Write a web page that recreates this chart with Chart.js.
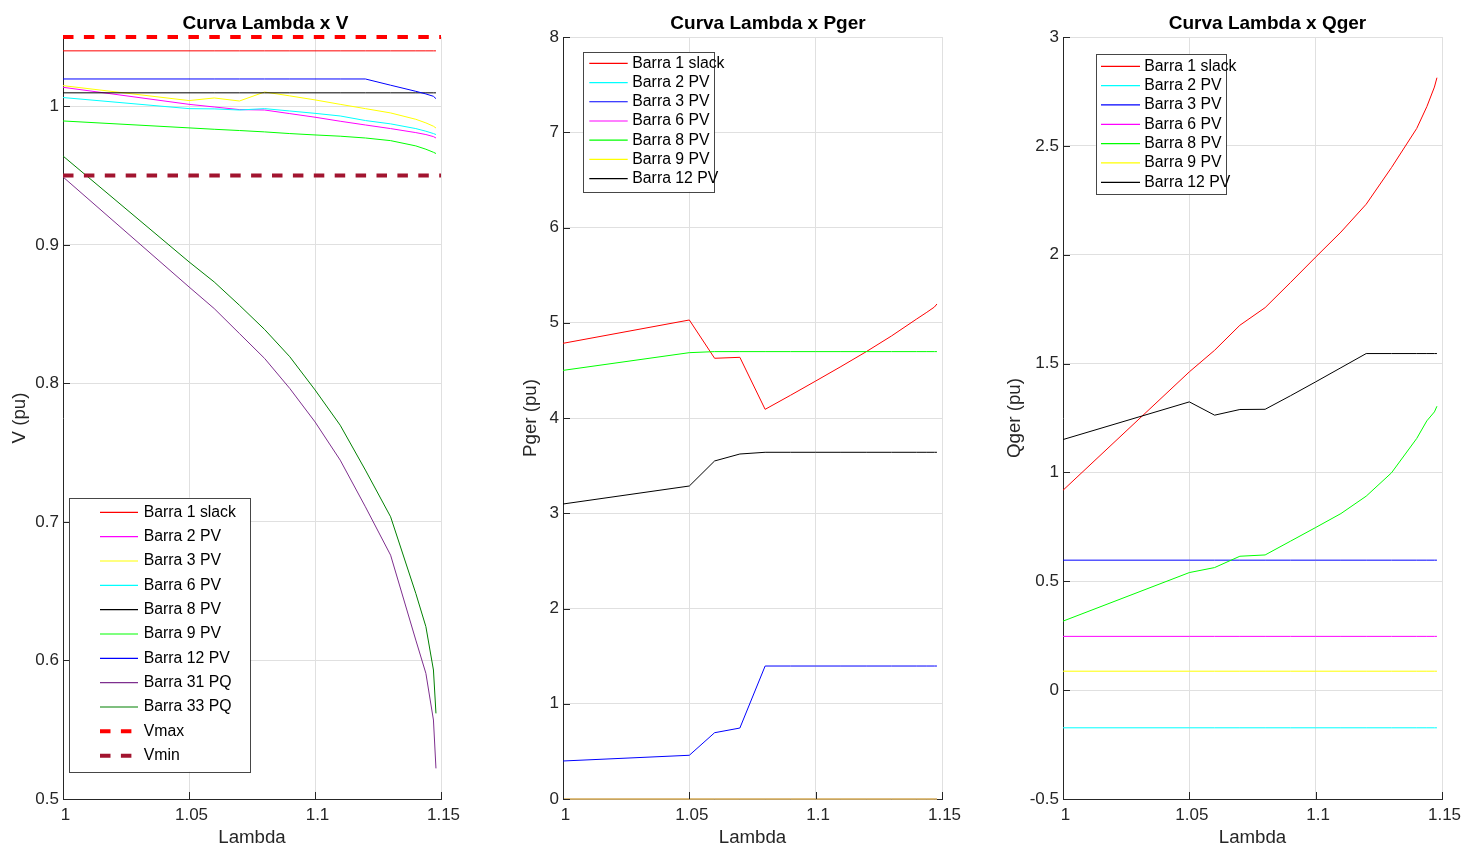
<!DOCTYPE html>
<html><head><meta charset="utf-8">
<script src="https://cdn.jsdelivr.net/npm/chart.js@4.4.1/dist/chart.umd.min.js"></script>
<style>
html,body{margin:0;padding:0;background:#fff;overflow:hidden;width:1464px;height:848px;}
canvas{position:absolute;top:0;}
</style></head><body>
<canvas id="c1" width="531" height="848" style="left:0px"></canvas>
<canvas id="c2" width="536" height="848" style="left:500px"></canvas>
<canvas id="c3" width="535" height="848" style="left:1000px"></canvas>
<script>
// ---------- data ----------
const lambda = [1.0, 1.05, 1.06, 1.07, 1.08, 1.09, 1.10, 1.11, 1.12, 1.13, 1.14, 1.144, 1.147, 1.148];
const xTicks = [1, 1.05, 1.1, 1.15];
const vTicks = [0.5, 0.6, 0.7, 0.8, 0.9, 1.0];
const pTicks = [0, 1, 2, 3, 4, 5, 6, 7, 8];
const qTicks = [-0.5, 0, 0.5, 1, 1.5, 2, 2.5, 3];

const V_b1  = [1.04, 1.04, 1.04, 1.04, 1.04, 1.04, 1.04, 1.04, 1.04, 1.04, 1.04, 1.04, 1.04, 1.04];
const V_b2  = [1.0137, 1.0014, 0.9995, 0.9976, 0.9973, 0.9947, 0.9921, 0.9892, 0.9865, 0.9839, 0.9810, 0.9796, 0.9781, 0.9771];
const V_b3  = [1.0149, 1.0041, 1.0060, 1.0038, 1.0103, 1.0075, 1.0046, 1.0014, 0.9983, 0.9952, 0.9906, 0.9880, 0.9856, 0.9843];
const V_b6  = [1.0063, 0.9983, 0.9981, 0.9973, 0.9983, 0.9966, 0.9949, 0.9930, 0.9897, 0.9873, 0.9839, 0.9820, 0.9803, 0.9796];
const V_b8  = [1.0097, 1.0097, 1.0097, 1.0097, 1.0097, 1.0097, 1.0097, 1.0097, 1.0097, 1.0097, 1.0097, 1.0097, 1.0097, 1.0097];
const V_b9  = [0.9894, 0.9844, 0.9834, 0.9825, 0.9815, 0.9803, 0.9793, 0.9784, 0.9771, 0.9752, 0.9714, 0.9690, 0.9668, 0.9659];
const V_b12 = [1.0197, 1.0197, 1.0197, 1.0197, 1.0197, 1.0197, 1.0197, 1.0197, 1.0197, 1.0152, 1.0108, 1.0089, 1.0072, 1.0055];
const V_b31 = [0.9490, 0.8696, 0.8540, 0.8360, 0.8180, 0.7963, 0.7722, 0.7446, 0.7109, 0.6760, 0.6147, 0.5907, 0.5570, 0.5221];
const V_b33 = [0.9641, 0.8877, 0.8732, 0.8564, 0.8389, 0.8192, 0.7953, 0.7698, 0.7374, 0.7037, 0.6484, 0.6244, 0.5931, 0.5618];
const limLambda = [1.0, 1.15];
const V_max = [1.05, 1.05];
const V_min = [0.95, 0.95];

const P_b1  = [4.784, 5.029, 4.627, 4.637, 4.091, 4.238, 4.388, 4.540, 4.696, 4.861, 5.040, 5.110, 5.165, 5.197];
const P_b2  = [0, 0, 0, 0, 0, 0, 0, 0, 0, 0, 0, 0, 0, 0];
const P_b3  = [0.399, 0.459, 0.696, 0.745, 1.396, 1.396, 1.396, 1.396, 1.396, 1.396, 1.396, 1.396, 1.396, 1.396];
const P_b6  = [0, 0, 0, 0, 0, 0, 0, 0, 0, 0, 0, 0, 0, 0];
const P_b8  = [4.500, 4.686, 4.697, 4.697, 4.697, 4.697, 4.697, 4.697, 4.697, 4.697, 4.697, 4.697, 4.697, 4.697];
const P_b9  = [0, 0, 0, 0, 0, 0, 0, 0, 0, 0, 0, 0, 0, 0];
const P_b12 = [3.097, 3.286, 3.549, 3.622, 3.640, 3.640, 3.640, 3.640, 3.640, 3.640, 3.640, 3.640, 3.640, 3.640];

const Q_b1  = [0.918, 1.462, 1.561, 1.676, 1.757, 1.872, 1.989, 2.104, 2.232, 2.400, 2.580, 2.680, 2.770, 2.813];
const Q_b2  = [-0.173, -0.173, -0.173, -0.173, -0.173, -0.173, -0.173, -0.173, -0.173, -0.173, -0.173, -0.173, -0.173, -0.173];
const Q_b3  = [0.597, 0.597, 0.597, 0.597, 0.597, 0.597, 0.597, 0.597, 0.597, 0.597, 0.597, 0.597, 0.597, 0.597];
const Q_b6  = [0.247, 0.247, 0.247, 0.247, 0.247, 0.247, 0.247, 0.247, 0.247, 0.247, 0.247, 0.247, 0.247, 0.247];
const Q_b8  = [0.317, 0.540, 0.563, 0.615, 0.621, 0.684, 0.747, 0.811, 0.891, 0.998, 1.156, 1.237, 1.278, 1.304];
const Q_b9  = [0.087, 0.087, 0.087, 0.087, 0.087, 0.087, 0.087, 0.087, 0.087, 0.087, 0.087, 0.087, 0.087, 0.087];
const Q_b12 = [1.151, 1.324, 1.263, 1.289, 1.290, 1.352, 1.416, 1.481, 1.546, 1.546, 1.546, 1.546, 1.546, 1.546];

// ---------- helpers ----------
Chart.defaults.font.family = "'Liberation Sans', Arial, Helvetica, sans-serif";
const AX = '#262626';
const GRID = '#e0e0e0';
const fmt = v => String(parseFloat(Number(v).toFixed(2)));
function pts(xs, ys) { return xs.map((x, i) => ({x: x, y: ys[i]})); }
function ds(label, color, ys, extra) {
  return Object.assign({label: label, data: pts(lambda, ys), borderColor: color, backgroundColor: color,
    borderWidth: 1, pointRadius: 0, tension: 0, fill: false, clip: false, xAxisID: 'x', yAxisID: 'y'}, extra || {});
}

const decorPlugin = {
  id: 'decor',
  afterDatasetsDraw(chart) {
    const ctx = chart.ctx, xs = chart.scales.x, ys = chart.scales.y, a = chart.chartArea;
    ctx.save();
    ctx.strokeStyle = AX; ctx.lineWidth = 1; ctx.setLineDash([]);
    ctx.beginPath();
    xs.ticks.forEach(t => { const px = Math.round(xs.getPixelForValue(t.value)) + 0.5; ctx.moveTo(px, a.bottom); ctx.lineTo(px, a.bottom - 7); });
    ys.ticks.forEach(t => { const py = Math.round(ys.getPixelForValue(t.value)) + 0.5; ctx.moveTo(a.left, py); ctx.lineTo(a.left + 7, py); });
    ctx.stroke();
    ctx.restore();
  },
  afterDraw(chart, args, o) {
    if (!o || !o.box) return;
    const ctx = chart.ctx;
    ctx.save();
    const [x1, y1, x2, y2] = o.box;
    ctx.fillStyle = '#ffffff';
    ctx.fillRect(x1, y1, x2 - x1, y2 - y1);
    ctx.strokeStyle = 'rgba(38,38,38,0.85)'; ctx.lineWidth = 1; ctx.setLineDash([]);
    ctx.strokeRect(Math.round(x1) + 0.5, Math.round(y1) + 0.5, Math.round(x2 - x1), Math.round(y2 - y1));
    ctx.font = o.fontSize + "px 'Liberation Sans', Arial, sans-serif";
    ctx.textBaseline = 'middle'; ctx.textAlign = 'left';
    chart.data.datasets.forEach((d, i) => {
      const y = o.y0 + o.dy * i;
      ctx.save();
      ctx.beginPath();
      ctx.setLineDash(d.borderDash ? d.borderDash : []);
      ctx.lineWidth = d.borderWidth > 1 ? d.borderWidth : 1.2;
      ctx.strokeStyle = d.borderColor;
      ctx.moveTo(o.s1, y); ctx.lineTo(o.s2, y);
      ctx.stroke();
      ctx.restore();
      ctx.fillStyle = '#000000';
      ctx.fillText(d.label, o.tx, y);
    });
    ctx.restore();
  }
};

function makeChart(id, cfg) {
  const n = cfg.datasets.length;
  cfg.datasets.forEach((d, i) => { d.order = n - i; });
  return new Chart(document.getElementById(id), {
    type: 'line',
    data: {datasets: cfg.datasets},
    plugins: [decorPlugin],
    options: {
      responsive: false, animation: false, devicePixelRatio: 1,
      layout: {padding: 0},
      plugins: {
        legend: {display: false}, tooltip: {enabled: false},
        title: {display: true, text: cfg.title, color: '#000000',
          font: {size: 19, weight: 'bold', lineHeight: 1.2}, padding: {top: 12, bottom: 2.2}},
        decor: cfg.legend
      },
      scales: {
        x: {
          type: 'linear', position: 'bottom', min: 1, max: 1.15,
          afterBuildTicks: s => { s.ticks = xTicks.map(v => ({value: v})); },
          afterFit: s => { s.height = 49; s.paddingLeft = 0; s.paddingRight = 0; },
          ticks: {autoSkip: false, maxRotation: 0, minRotation: 0, padding: 6, labelOffset: 2.5,
            color: AX, font: {size: 17, lineHeight: 1.2}, callback: v => fmt(v)},
          grid: {color: GRID, lineWidth: 1, drawTicks: false},
          border: {display: true, color: AX, width: 1},
          title: {display: true, text: 'Lambda', color: AX, font: {size: 18.7, lineHeight: 1}, padding: {top: 0, bottom: 1}}
        },
        y: {
          type: 'linear', position: 'left', min: cfg.ymin, max: cfg.ymax,
          afterBuildTicks: s => { s.ticks = cfg.yticks.map(v => ({value: v})); },
          afterFit: s => { s.width = 63; s.paddingTop = 0; s.paddingBottom = 0; },
          ticks: {autoSkip: false, padding: 4, color: AX, font: {size: 17, lineHeight: 1.2}, callback: v => fmt(v)},
          grid: {color: GRID, lineWidth: 1, drawTicks: false},
          border: {display: true, color: AX, width: 1},
          title: {display: true, text: cfg.ytitle, color: AX, font: {size: 18.7, lineHeight: 1}, padding: {top: cfg.ytitlePad, bottom: 0}}
        },
        yR: {
          type: 'linear', axis: 'y', position: 'right', display: true,
          afterFit: s => { s.width = cfg.rightGap; s.paddingTop = 0; s.paddingBottom = 0; },
          ticks: {display: false}, grid: {display: false}, border: {display: false}
        }
      }
    }
  });
}

// ---------- chart 1 : V ----------
makeChart('c1', {
  title: 'Curva Lambda x V', ytitle: 'V (pu)', ytitlePad: 10.5,
  ymin: 0.5, ymax: 1.05, yticks: vTicks, rightGap: 90,
  legend: {box: [69, 497.7, 250, 771.7], y0: 512.3, dy: 24.34, s1: 100, s2: 138, tx: 143.7, fontSize: 15.8},
  datasets: [
    ds('Barra 1 slack', '#FF0000', V_b1),
    ds('Barra 2 PV', '#FF00FF', V_b2),
    ds('Barra 3 PV', '#FFFF00', V_b3),
    ds('Barra 6 PV', '#00FFFF', V_b6),
    ds('Barra 8 PV', '#000000', V_b8),
    ds('Barra 9 PV', '#00FF00', V_b9),
    ds('Barra 12 PV', '#0000FF', V_b12),
    ds('Barra 31 PQ', '#7E2F8E', V_b31),
    ds('Barra 33 PQ', '#008000', V_b33),
    Object.assign(ds('Vmax', '#FF0000', V_max), {data: pts(limLambda, V_max), borderWidth: 4, borderDash: [10.5, 10.4], borderCapStyle: 'butt'}),
    Object.assign(ds('Vmin', '#A2142F', V_min), {data: pts(limLambda, V_min), borderWidth: 4, borderDash: [10.5, 10.4], borderCapStyle: 'butt'})
  ]
});

// ---------- chart 2 : Pger ----------
makeChart('c2', {
  title: 'Curva Lambda x Pger', ytitle: 'Pger (pu)', ytitlePad: 21.5,
  ymin: 0, ymax: 8, yticks: pTicks, rightGap: 94,
  legend: {box: [83.3, 52, 214, 191.7], y0: 63.3, dy: 19.23, s1: 89.3, s2: 127.7, tx: 132.3, fontSize: 15.8},
  datasets: [
    ds('Barra 1 slack', '#FF0000', P_b1),
    ds('Barra 2 PV', '#00FFFF', P_b2),
    ds('Barra 3 PV', '#0000FF', P_b3),
    ds('Barra 6 PV', '#FF00FF', P_b6),
    ds('Barra 8 PV', '#00FF00', P_b8),
    ds('Barra 9 PV', '#FFFF00', P_b9),
    ds('Barra 12 PV', '#000000', P_b12)
  ]
});

// ---------- chart 3 : Qger ----------
makeChart('c3', {
  title: 'Curva Lambda x Qger', ytitle: 'Qger (pu)', ytitlePad: 5.5,
  ymin: -0.5, ymax: 3, yticks: qTicks, rightGap: 93,
  legend: {box: [95.7, 54.3, 226, 194], y0: 66.3, dy: 19.33, s1: 101, s2: 140, tx: 144.3, fontSize: 15.8},
  datasets: [
    ds('Barra 1 slack', '#FF0000', Q_b1),
    ds('Barra 2 PV', '#00FFFF', Q_b2),
    ds('Barra 3 PV', '#0000FF', Q_b3),
    ds('Barra 6 PV', '#FF00FF', Q_b6),
    ds('Barra 8 PV', '#00FF00', Q_b8),
    ds('Barra 9 PV', '#FFFF00', Q_b9),
    ds('Barra 12 PV', '#000000', Q_b12)
  ]
});
</script>
</body></html>
